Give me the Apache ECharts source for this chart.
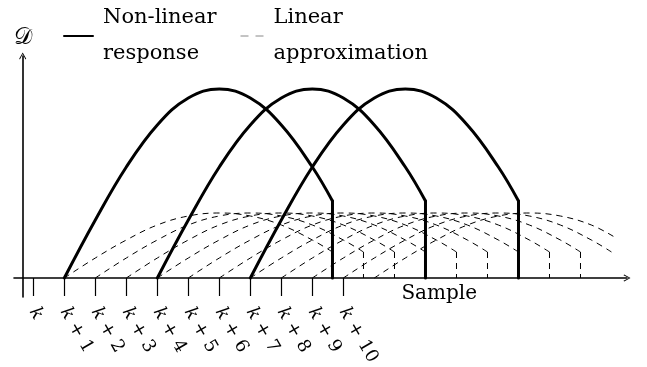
<!DOCTYPE html>
<html>
<head>
<meta charset="utf-8">
<script src="https://cdn.jsdelivr.net/npm/echarts@6/dist/echarts.min.js"></script>
<style>
  html, body { margin: 0; padding: 0; background: #fff; }
  #chart { width: 647px; height: 367px; }
</style>
</head>
<body>
<div id="chart"></div>
<script>
// tick positions (k = 0) and their labels
var tickPos = [0, 1, 2, 3, 4, 5, 6, 7, 8, 9, 10];
var tickLabels = ['k', 'k + 1', 'k + 2', 'k + 3', 'k + 4', 'k + 5', 'k + 6', 'k + 7', 'k + 8', 'k + 9', 'k + 10'];

// sample offsets at which each response curve was read, last one is where it is cut
var arcOffsets = [0, 1, 2, 3, 4, 5, 6, 7, 8, 8.65];
// non-linear response (solid), starts at k+1, k+4, k+7
var solidStarts = [1, 4, 7];
var solidHeights = [0, 5.8, 11.1, 15.3, 18.0, 18.9, 18.0, 15.3, 11.1, 7.7];
// linear approximation (dashed), one per sample
var dashedStarts = [1, 2, 3, 4, 5, 6, 7, 8, 9, 10, 11];
var dashedHeights = [0, 2.0, 3.8, 5.3, 6.2, 6.5, 6.2, 5.3, 3.8, 2.6];
var dashedDropStarts = [1, 2, 3, 4, 5, 6, 7, 8, 9];
// right edge of the drawing, the last dashed arc stops there
var frameEnd = 18.8;
var lastArcEnd = [7.8, 4.0];

var arrow = 'path://M0,9 L5,0 L10,9 L9,10 L5,2.2 L1,10 Z';
var serif = 'DejaVu Serif';

var chart = echarts.init(document.getElementById('chart'));
var series = [];
var cut = arcOffsets[arcOffsets.length - 1];

dashedStarts.forEach(function (s) {
    var pts = [];
    arcOffsets.forEach(function (o, i) {
        if (s + o <= frameEnd) pts.push([s + o, dashedHeights[i]]);
    });
    if (s + cut > frameEnd) pts.push([s + lastArcEnd[0], lastArcEnd[1]]);
    series.push({
        name: 'Linear approximation', type: 'line', data: pts,
        smooth: 0.4, symbol: 'none', silent: true,
        itemStyle: { color: '#000' },
        lineStyle: { color: '#000', width: 1, type: [6, 5] }
    });
});
dashedDropStarts.forEach(function (s) {
    series.push({
        name: 'Linear approximation', type: 'line',
        data: [[s + cut, dashedHeights[dashedHeights.length - 1]], [s + cut, 0]],
        symbol: 'none', silent: true,
        itemStyle: { color: '#000' },
        lineStyle: { color: '#000', width: 1, type: [6, 5] }
    });
});
solidStarts.forEach(function (s) {
    series.push({
        name: 'Non-linear response', type: 'line',
        data: arcOffsets.map(function (o, i) { return [s + o, solidHeights[i]]; }),
        smooth: 0.4, symbol: 'none', silent: true,
        itemStyle: { color: '#000' },
        lineStyle: { color: '#000', width: 3, cap: 'round' }
    });
    series.push({
        name: 'Non-linear response', type: 'line',
        data: [[s + cut, solidHeights[solidHeights.length - 1]], [s + cut, 0]],
        symbol: 'none', silent: true,
        itemStyle: { color: '#000' },
        lineStyle: { color: '#000', width: 3, cap: 'round' }
    });
});

var legendText = {
    fontFamily: serif, fontSize: 21, lineHeight: 36, color: '#000',
    padding: [0, 0, 0, 5]
};

var option = {
    animation: false,
    backgroundColor: '#fff',
    grid: { left: 14, right: 20, top: 56, bottom: 70, outerBoundsMode: 'none', containLabel: false },
    legend: [{
        data: [{ name: 'Non-linear response' }],
        left: 63, top: 0, padding: 0,
        itemWidth: 29, itemHeight: 14,
        selectedMode: false,
        itemStyle: { opacity: 0 },
        formatter: function (name) { return name.replace(' ', '\n'); },
        textStyle: legendText
    }, {
        data: [{ name: 'Linear approximation', lineStyle: { color: '#888', width: 1, type: [8, 7] } }],
        left: 240, top: 0, padding: 0,
        itemWidth: 23, itemHeight: 14,
        selectedMode: false,
        itemStyle: { opacity: 0 },
        formatter: function (name) { return name.replace(' ', '\n'); },
        textStyle: legendText
    }],
    xAxis: {
        type: 'value',
        min: -0.623, max: 19.15,
        name: 'Sample',
        nameLocation: 'end',
        nameGap: -150,
        nameTextStyle: {
            fontFamily: serif, fontSize: 20, color: '#000',
            align: 'right', verticalAlign: 'top', padding: [6, 0, 0, 0]
        },
        axisLine: {
            onZero: true,
            symbol: ['none', arrow], symbolSize: [12, 7],
            lineStyle: { color: '#000', width: 1.6 }
        },
        axisTick: {
            show: true, inside: false, length: 18,
            customValues: tickPos,
            lineStyle: { color: '#000', width: 1.2 }
        },
        axisLabel: {
            show: true,
            customValues: tickPos,
            rotate: -60,
            margin: 12,
            fontFamily: serif, fontSize: 18, color: '#000',
            formatter: function (v) {
                var t = tickLabels[Math.round(v)];
                return '{i|k}' + t.slice(1);
            },
            rich: { i: { fontStyle: 'italic', fontFamily: serif, fontSize: 18, color: '#000' } }
        },
        splitLine: { show: false }
    },
    yAxis: {
        type: 'value',
        min: -1.9, max: 22.2,
        offset: -8.7,
        name: '\uD835\uDC9F',
        nameLocation: 'end',
        nameGap: 6,
        nameTextStyle: { fontFamily: serif, fontSize: 23, color: '#000', align: 'center' },
        axisLine: {
            show: true, onZero: false,
            symbol: ['none', arrow], symbolSize: [12, 7],
            lineStyle: { color: '#000', width: 1.6 }
        },
        axisTick: { show: false },
        axisLabel: { show: false },
        splitLine: { show: false }
    },
    series: series
};
chart.setOption(option);
</script>
</body>
</html>
